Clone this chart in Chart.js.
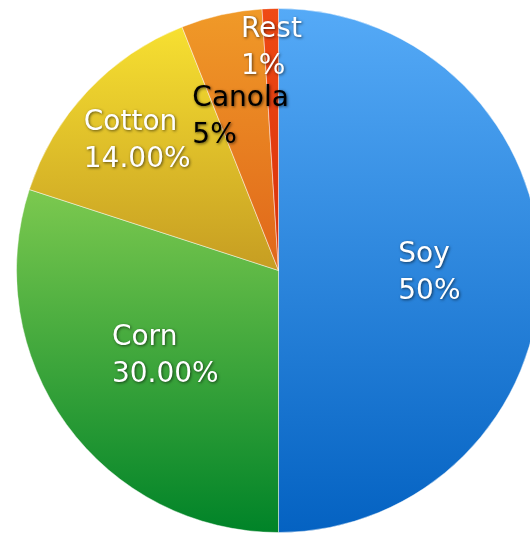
<!DOCTYPE html>
<html lang="en">
<head>
    <meta charset="UTF-8">
    <title>Crop share</title>
    <script src="https://cdn.jsdelivr.net/npm/chart.js"></script>
    <style>
        html, body {
            margin: 0;
            padding: 0;
            width: 530px;
            height: 533px;
            overflow: hidden;
            background: #ffffff;
        }
        #chart-box {
            position: absolute;
            left: 16px;
            top: 8px;
            width: 525px;
            height: 525px;
        }
    </style>
</head>
<body>
    <div id="chart-box">
        <canvas id="myChart" width="525" height="525"></canvas>
    </div>

    <script>
        // Data
        const crops = ['Soy', 'Corn', 'Cotton', 'Canola', 'Rest'];
        const shares = [50, 30, 14, 5, 1];
        const shareDecimals = [0, 2, 2, 0, 0];

        // Styling: gradient colours (top, bottom) per slice
        const topColors = ['#55aaf7', '#7cc94f', '#f7e031', '#f09a28', '#ef4a14'];
        const bottomColors = ['#0462c2', '#008328', '#c69d22', '#e0661a', '#d8300a'];
        const labelColors = ['#ffffff', '#ffffff', '#ffffff', '#000000', '#ffffff'];
        // label distance from centre as a fraction of radius
        const labelDistance = [0.576, 0.534, 0.74, 0.61, 0.86];
        const labelNudgeX = [0, 0, 0, -3, 0];
        const labelNudgeY = 3;

        const total = shares.reduce((a, b) => a + b, 0);

        // angle of slice i measured clockwise from the top
        function sliceAngles(i) {
            let start = 0;
            for (let k = 0; k < i; k++) start += shares[k] / total * Math.PI * 2;
            return [start, start + shares[i] / total * Math.PI * 2];
        }

        function sliceGradient(context) {
            const chart = context.chart;
            const area = chart.chartArea;
            const i = context.dataIndex;
            if (!area || i === undefined) return topColors[i || 0];
            const cy = (area.top + area.bottom) / 2;
            const r = (Math.min(area.right - area.left, area.bottom - area.top) - 1) / 2;
            const [a0, a1] = sliceAngles(i);
            const ys = [cy, cy - r * Math.cos(a0), cy - r * Math.cos(a1)];
            if (a0 <= 0 && a1 >= 0) ys.push(cy - r);
            if (a0 <= Math.PI && a1 >= Math.PI) ys.push(cy + r);
            const g = chart.ctx.createLinearGradient(0, Math.min(...ys), 0, Math.max(...ys));
            g.addColorStop(0, topColors[i]);
            g.addColorStop(1, bottomColors[i]);
            return g;
        }

        // Draw the two-line labels inside the slices
        const sliceLabels = {
            id: 'sliceLabels',
            afterDatasetsDraw(chart) {
                const ctx = chart.ctx;
                const meta = chart.getDatasetMeta(0);
                ctx.save();
                ctx.font = '28px "DejaVu Sans", sans-serif';
                ctx.textAlign = 'left';
                ctx.textBaseline = 'middle';
                meta.data.forEach((arc, i) => {
                    const mid = (arc.startAngle + arc.endAngle) / 2;
                    const d = arc.outerRadius * labelDistance[i];
                    const x = arc.x + Math.cos(mid) * d + labelNudgeX[i];
                    const y = arc.y + Math.sin(mid) * d + labelNudgeY;
                    const lines = [crops[i], shares[i].toFixed(shareDecimals[i]) + '%'];
                    const w = Math.max(...lines.map(t => ctx.measureText(t).width));
                    const lineH = 37;
                    ctx.fillStyle = labelColors[i];
                    ctx.shadowColor = 'rgba(0, 0, 0, 0.6)';
                    ctx.shadowBlur = 3;
                    ctx.shadowOffsetX = 1;
                    ctx.shadowOffsetY = 1;
                    lines.forEach((t, k) => {
                        ctx.fillText(t, x - w / 2, y + (k - 0.5) * lineH);
                    });
                });
                ctx.restore();
            }
        };

        const ctx = document.getElementById('myChart').getContext('2d');
        new Chart(ctx, {
            type: 'pie',
            data: {
                labels: crops,
                datasets: [{
                    data: shares,
                    backgroundColor: sliceGradient,
                    borderColor: 'rgba(255, 255, 255, 0.45)',
                    borderWidth: 1
                }]
            },
            options: {
                responsive: false,
                animation: false,
                layout: { padding: 0 },
                plugins: {
                    legend: { display: false },
                    tooltip: { enabled: false }
                }
            },
            plugins: [sliceLabels]
        });
    </script>
</body>
</html>
